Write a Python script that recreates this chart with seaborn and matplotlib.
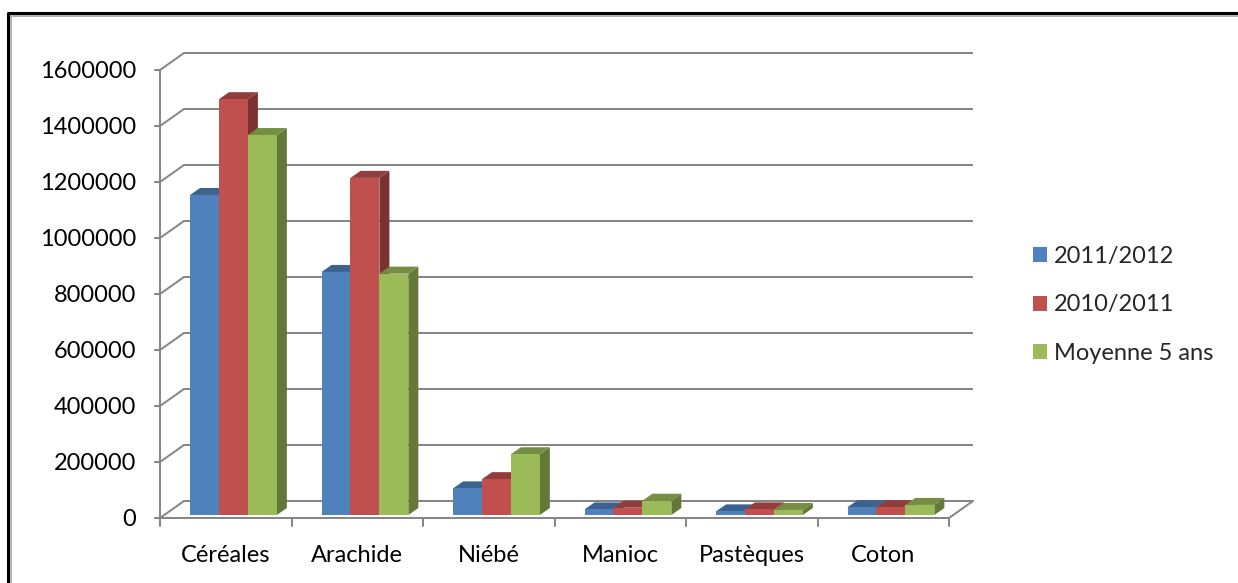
import numpy as np
import pandas as pd
import seaborn as sns
import matplotlib
matplotlib.use("Agg")
import matplotlib.pyplot as plt
from matplotlib.patches import Polygon, Patch
from matplotlib.lines import Line2D
from matplotlib.transforms import ScaledTranslation
import matplotlib.colors as mcolors

# ---------------- data ----------------
categories = ["Céréales", "Arachide", "Niébé", "Manioc", "Pastèques", "Coton"]
series = ["2011/2012", "2010/2011", "Moyenne 5 ans"]
v_2011_2012 = [1143000, 868000, 95000, 20000, 13000, 28000]
v_2010_2011 = [1485000, 1204000, 128000, 26000, 20000, 28000]
v_moyenne_5ans = [1357000, 862000, 217000, 51000, 18000, 36000]
y_ticks = [0, 200000, 400000, 600000, 800000, 1000000, 1200000, 1400000, 1600000]
colors = ["#4F81BD", "#C0504D", "#9BBB59"]

values = [v_2011_2012, v_2010_2011, v_moyenne_5ans]
df = pd.DataFrame({
    "cat": [c for s in series for c in categories],
    "series": [s for s in series for c in categories],
    "val": [v for vals in values for v in vals],
})

# ---------------- layout (pixels) ----------------
W, H = 1238, 583
L, R, B, T = 160, 949, 518, 70
FS = 17

sns.set_theme(style="white")
plt.rcParams["font.family"] = ["Lato", "DejaVu Sans"]

fig = plt.figure(figsize=(W / 100, H / 100), dpi=100)
fig.patch.set_facecolor("white")
ax = fig.add_axes([L / W, (H - B) / H, (R - L) / W, (B - T) / H])

sns.barplot(data=df, x="cat", y="val", hue="series", order=categories,
            hue_order=series, palette=colors, saturation=1, width=0.66,
            dodge=True, ax=ax, legend=False, linewidth=0, errorbar=None)

ax.set_xlim(-0.5, 5.5)
ax.set_ylim(0, y_ticks[-1])
ax.set_axis_off()

ux = 6.0 / (R - L)              # data units per px (x)
uy = y_ticks[-1] / (B - T)      # data units per px (y)
grid_c = "#868686"
glw = 1.45

# back wall depth
wdx, wdy = 24 * ux, 17 * uy
x0, x1 = -0.5, 5.5
for v in y_ticks:
    ax.plot([x0 + wdx, x1 + wdx], [v + wdy, v + wdy], color=grid_c, lw=glw,
            zorder=1, clip_on=False, solid_capstyle="butt")
    ax.plot([x0, x0 + wdx], [v, v + wdy], color=grid_c, lw=glw, zorder=1,
            clip_on=False)
    ax.plot([x0 - 5 * ux, x0], [v, v], color=grid_c, lw=glw, zorder=1,
            clip_on=False)
    ax.text(x0 - 24 * ux, v - 2 * uy, f"{v}", ha="right", va="center",
            fontsize=FS, color="black")
# front y-axis
ax.plot([x0, x0], [0, y_ticks[-1]], color=grid_c, lw=glw, zorder=1, clip_on=False)
# floor
ax.plot([x0, x1], [0, 0], color=grid_c, lw=glw, zorder=1, clip_on=False)
ax.plot([x1, x1 + wdx], [0, wdy], color=grid_c, lw=glw, zorder=1, clip_on=False)
for i in range(len(categories) + 1):
    ax.plot([x0 + i, x0 + i], [0, -8 * uy], color=grid_c, lw=glw, zorder=1,
            clip_on=False)
for i, c in enumerate(categories):
    ax.text(i, -38 * uy, c, ha="center", va="center", fontsize=FS, color="black")

# 3D bars
tr = ax.transData + ScaledTranslation(7.7 / 100, 3 / 100, fig.dpi_scale_trans)
bdx, bdy = 10 * ux, 7 * uy
bars = [p for p in ax.patches if p.get_width() > 0]
bars.sort(key=lambda p: p.get_x())
for k, p in enumerate(bars):
    xb, w, h = p.get_x(), p.get_width(), p.get_height()
    fc = np.array(mcolors.to_rgb(p.get_facecolor()))
    top_c = fc * 0.76
    side_c = fc * 0.64
    z = 3 + k * 0.1
    side = Polygon([(xb + w, 0), (xb + w, h), (xb + w + bdx, h + bdy),
                    (xb + w + bdx, bdy)], closed=True, facecolor=side_c,
                   edgecolor="none", transform=tr, zorder=z, clip_on=False)
    top = Polygon([(xb, h), (xb + w, h), (xb + w + bdx, h + bdy),
                   (xb + bdx, h + bdy)], closed=True, facecolor=top_c,
                  edgecolor="none", transform=tr, zorder=z + 0.01, clip_on=False)
    ax.add_patch(side)
    ax.add_patch(top)
    p.set_transform(tr)
    p.set_zorder(z + 0.02)
    p.set_clip_on(False)

# legend
handles = [Patch(facecolor=c, edgecolor="none") for c in colors]
fig.legend(handles, series, loc="upper left",
           bbox_to_anchor=(1033 / W, 1 - 246 / H), frameon=False,
           fontsize=FS, handlelength=0.6, handleheight=0.6,
           handletextpad=0.3, labelspacing=1.16, borderpad=0,
           borderaxespad=0)

# outer border (top + left visible)
fig.add_artist(Line2D([8 / W, 8 / W, 1], [0, 1 - 13 / H, 1 - 13 / H],
                      transform=fig.transFigure, color="black", lw=2.2))
fig.add_artist(Line2D([11 / W, 11 / W, 1], [0, 1 - 16 / H, 1 - 16 / H],
                      transform=fig.transFigure, color="#a6a6a6", lw=1.2))

fig.savefig("out.png", dpi=100)
